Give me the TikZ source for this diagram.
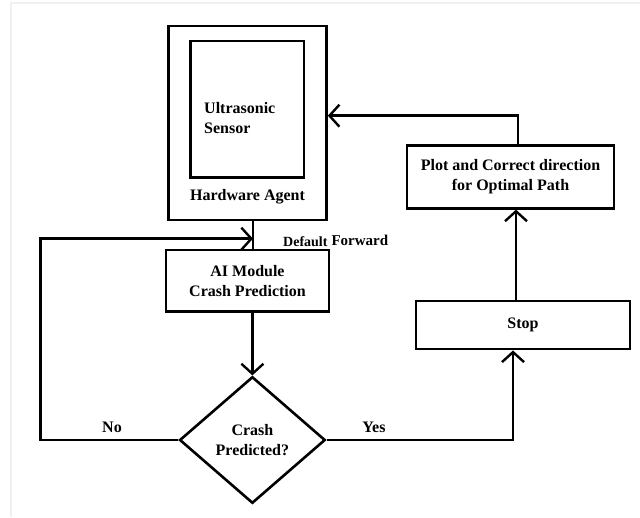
\documentclass[tikz,border=0pt]{standalone}
\usepackage{fontspec}
\setmainfont{Liberation Serif}
\usetikzlibrary{arrows.meta, positioning, shapes.geometric}

\begin{document}
\begin{tikzpicture}[
            x=1pt, y=-1pt,
            box/.style={rectangle, draw, line width=2.6pt, inner sep=0pt, align=center},
            txt/.style={inner sep=0pt, align=center},
            link/.style={line width=2.6pt},
            arr/.style={link, -{Straight Barb[length=10pt, width=22pt, line width=2.4pt]}},
            every node/.style={font=\bfseries\fontsize{16}{20}\selectfont},
        ]
            \useasboundingbox (0,0) rectangle (640,517);
            \draw[gray!12, line width=2pt] (10.5,517) -- (10.5,3) -- (640,3);

            % hardware agent with sensor inside
            \node[box, minimum width=158pt, minimum height=194pt] (agent) at (247.5,123) {};
            \node[box, minimum width=113.4pt, minimum height=136.7pt] (sensor) at (247.3,109.3) {};
            \node[txt, align=left, anchor=west] (sensortxt) at (204,118) {Ultrasonic\\Sensor};
            \node[txt] (agenttxt) at (247.5,196.7) {Hardware Agent};

            \node[box, minimum width=163pt, minimum height=61.7pt] (ai) at (247.5,280.8) {AI Module\\Crash Prediction};
            \node[diamond, draw, line width=2.6pt, inner sep=0pt, align=center, minimum width=145.7pt, minimum height=126.6pt] (dec) at (252.4,440) {Crash\\Predicted?};
            \node[box, minimum width=214pt, minimum height=48.3pt] (stop) at (523,325) {Stop};
            \node[box, minimum width=207pt, minimum height=62.6pt] (plot) at (510.5,177) {Plot and Correct direction\\for Optimal Path};

            \node[txt, anchor=base west] (deflt) at (283,246.7) {{\fontsize{14}{16}\selectfont Default} \raisebox{1.5pt}{\fontsize{15}{17}\selectfont Forward}};
            \node[txt] (no) at (112,427) {No};
            \node[txt] (yes) at (374,427) {Yes};

            \coordinate (join) at (253,238.7);

            % connectors
            \draw[link] ([xshift=5.5pt]agent.south) -- ([xshift=5.5pt]ai.north);
            \draw[arr] (dec.west) -- ++(-137.6,0) |- (join);
            \draw[arr] (dec.north |- ai.south) -- (dec.north);
            \draw[arr] (dec.east) -| ([xshift=-10pt]stop.south);
            \draw[arr] ([xshift=-7pt]stop.north) -- ([xshift=-7pt]stop.north |- plot.south);
            \draw[arr] ([xshift=7.5pt]plot.north) |- ([yshift=7.3pt]agent.east);
        \end{tikzpicture}
\end{document}
